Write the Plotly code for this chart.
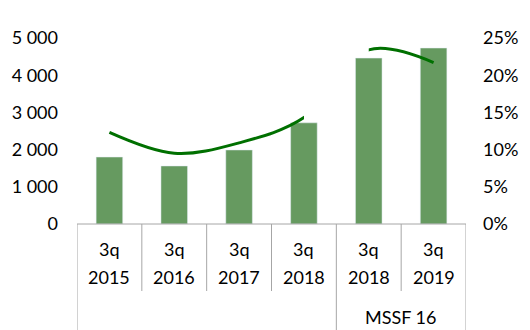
import plotly.graph_objects as go

# ---- data ----
quarters = ["3q", "3q", "3q", "3q", "3q", "3q"]
years = ["2015", "2016", "2017", "2018", "2018", "2019"]
groups = ["", "", "", "", "MSSF 16", "MSSF 16"]
values = [1800, 1560, 1990, 2720, 4460, 4730]
ratio = [0.123, 0.095, 0.109, 0.143, 0.234, 0.217]
left_ticks = [0, 1000, 2000, 3000, 4000, 5000]
left_ticktext = ["0", "1 000", "2 000", "3 000", "4 000", "5 000"]
right_ticks = [0, 0.05, 0.10, 0.15, 0.20, 0.25]
right_ticktext = ["0%", "5%", "10%", "15%", "20%", "25%"]
break_after = 3  # line is hidden between index 3 and 4

# ---- style ----
W, H = 530, 330
ML, MR, MT, MB = 75, 61, 38, 106
PH = H - MT - MB
BAR = "#669a60"
LINE = "#007000"
GRID = "#a6a6a6"
FONT = "Lato"
FS = 18

n = len(values)
idx = list(range(n))
def py(pix):  # pixel y -> paper y
    return (H - MB - pix) / PH

fig = go.Figure()
fig.add_trace(go.Bar(x=idx, y=values, marker_color=BAR, width=0.41,
                     showlegend=False, hoverinfo="skip"))

# smoothed line drawn as one series, with the segment after break_after hidden via clipping
seg1_x = idx[:break_after + 2]
seg1_y = ratio[:break_after + 2]
seg2_x = idx[break_after:]
seg2_y = ratio[break_after:]
fig.add_trace(go.Scatter(x=seg1_x, y=seg1_y, mode="lines", xaxis="x2", yaxis="y2",
                         line=dict(color=LINE, width=3, shape="spline", smoothing=1),
                         showlegend=False, hoverinfo="skip"))
fig.add_trace(go.Scatter(x=seg2_x, y=seg2_y, mode="lines", xaxis="x3", yaxis="y2",
                         line=dict(color=LINE, width=3, shape="spline", smoothing=1),
                         showlegend=False, hoverinfo="skip"))

full = (-0.5, n - 0.5)
span = full[1] - full[0]
d2 = (break_after + 0.5) / span
d3 = (break_after + 1 + 0.5) / span

fig.update_layout(
    width=W, height=H,
    margin=dict(l=ML, r=MR, t=MT, b=MB),
    paper_bgcolor="white", plot_bgcolor="rgba(0,0,0,0)",
    font=dict(family=FONT, size=FS, color="#000000"),
    bargap=0.59,
    xaxis=dict(range=list(full), showticklabels=False, showgrid=False,
               zeroline=False, showline=False, ticks=""),
    xaxis2=dict(range=[full[0], break_after], domain=[0, d2], anchor="y2",
                visible=False, showgrid=False, zeroline=False),
    xaxis3=dict(range=[break_after + 1, full[1]], domain=[d3, 1], anchor="y2",
                visible=False, showgrid=False, zeroline=False),
    yaxis=dict(range=[0, 5000], tickvals=left_ticks, ticktext=left_ticktext,
               showgrid=False, zeroline=False, showline=False, ticks="",
               ticklabelstandoff=18),
    yaxis2=dict(range=[0, 0.25], tickvals=right_ticks, ticktext=right_ticktext,
                overlaying="y", side="right", anchor="x", showgrid=False, zeroline=False,
                showline=False, ticks="", ticklabelstandoff=16),
)

# category axis frame
shapes = [dict(type="line", xref="x", yref="paper", x0=full[0], x1=full[1], y0=0, y1=0,
               line=dict(color=GRID, width=1))]
for i in range(n + 1):
    xb = i - 0.5
    outer = (i == 0 or i == n or (0 < i < n and groups[i] != groups[i - 1]))
    shapes.append(dict(type="line", xref="x", yref="paper", x0=xb, x1=xb, y0=0,
                       y1=py(H) if outer else py(291),
                       line=dict(color=GRID, width=1)))
fig.update_layout(shapes=shapes)

ann = []
for i in idx:
    ann.append(dict(x=i, y=py(249), xref="x", yref="paper", text=quarters[i],
                    showarrow=False, yanchor="middle"))
    ann.append(dict(x=i, y=py(277), xref="x", yref="paper", text=years[i],
                    showarrow=False, yanchor="middle"))
for g in dict.fromkeys(groups):
    if not g:
        continue
    members = [i for i in idx if groups[i] == g]
    ann.append(dict(x=sum(members) / len(members), y=py(317), xref="x", yref="paper",
                    text=g, showarrow=False, yanchor="middle"))
fig.update_layout(annotations=ann)

fig.write_html("out.html")
